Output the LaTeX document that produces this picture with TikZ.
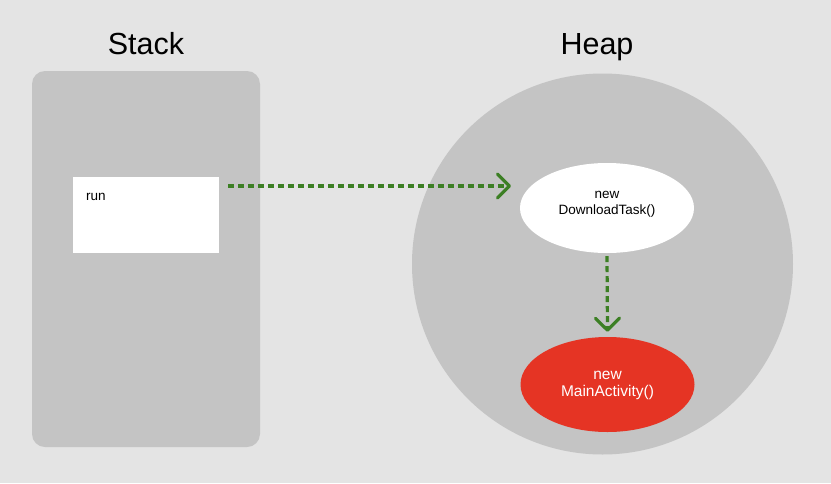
\documentclass[tikz,border=0pt]{standalone}
\usepackage{fontspec}
\setmainfont{Liberation Sans}
\usetikzlibrary{arrows.meta,shapes.geometric,calc}
\definecolor{bg}{HTML}{E4E4E4}
\definecolor{panel}{HTML}{C4C4C4}
\definecolor{arrowgreen}{HTML}{3C7F24}
\definecolor{objred}{HTML}{E53424}
\begin{document}
\begin{tikzpicture}[x=1pt,y=-1pt,
  title/.style={font=\fontsize{30.5}{33}\selectfont, text=black, anchor=base, inner sep=0pt},
  obj/.style={ellipse, draw=none, minimum width=174pt, minimum height=90pt, inner sep=0pt},
  objlbl/.style={align=center, inner sep=0pt},
  ref/.style={draw=arrowgreen, line width=3.2pt, dash pattern=on 6pt off 4pt,
    -{Straight Barb[length=12pt,width=24pt,line width=3.2pt,line cap=round,line join=round]}}]
\fill[bg] (0,0) rectangle (831,483);
\useasboundingbox (0,0) rectangle (831,483);
\node[title] (stacklbl) at (146,54) {Stack};
\node[title] (heaplbl) at (597,54) {Heap};
\fill[panel, rounded corners=13pt] (32,71) rectangle (260,447);
\node[fill=panel, circle, minimum size=381pt, inner sep=0pt] (heap) at (602.5,264) {};
\node[fill=white, minimum width=146pt, minimum height=76pt, inner sep=0pt] (run) at (146,215) {};
\node[anchor=base west, font=\fontsize{13.5}{15}\selectfont, inner sep=0pt] (runlbl) at (86,200) {run};
\node[obj, fill=white] (task) at (607,208) {};
\node[objlbl, font=\fontsize{13.5}{16}\selectfont] (tasklbl) at (607,204) {new\\DownloadTask()};
\node[obj, fill=objred, minimum height=95pt] (act) at (607.5,384.5) {};
\node[objlbl, text=white, font=\fontsize{15.5}{17}\selectfont] (actlbl) at (607.5,385) {new\\MainActivity()};
\coordinate (runout) at (228,186);
\coordinate (taskin) at (511,186);
\draw[ref] (runout) -- (taskin);
\draw[ref] ($(task.south)+(0,3)$) -- ($(act.north)+(0,-5)$);
\end{tikzpicture}
\end{document}
